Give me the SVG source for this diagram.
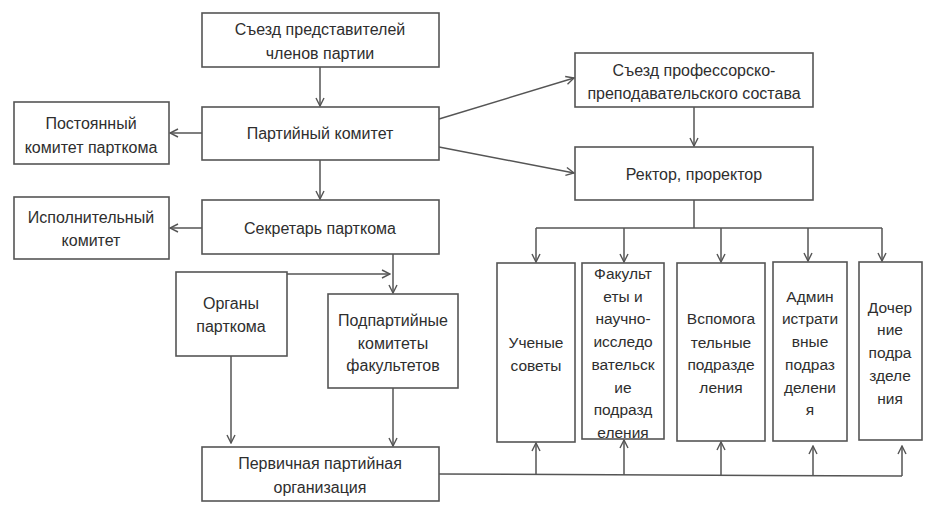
<svg xmlns="http://www.w3.org/2000/svg" width="945" height="521" viewBox="0 0 945 521">
<defs>
<marker id="ah" viewBox="0 0 10 10" refX="9" refY="5" markerWidth="10" markerHeight="10" markerUnits="userSpaceOnUse" orient="auto">
<path d="M1,1 L9,5 L1,9" fill="none" stroke="#555" stroke-width="1.4"/>
</marker>
<style>
rect{fill:#fff;stroke:#555;stroke-width:1.6}
text{font-family:"Liberation Sans",Arial,sans-serif;font-size:16px;fill:#2e2e2e;text-anchor:middle}
.s{font-size:15.5px}
.c line,.c polyline{stroke:#555;stroke-width:1.5;fill:none}
</style>
</defs>
<rect x="0" y="0" width="945" height="521" style="fill:#fff;stroke:none"/>
<g class="c" id="connectors">
<line x1="320" y1="67" x2="320" y2="106" marker-end="url(#ah)"/>
<line x1="202" y1="133" x2="170" y2="133" marker-end="url(#ah)"/>
<line x1="320" y1="160" x2="320" y2="199" marker-end="url(#ah)"/>
<line x1="202" y1="228" x2="170" y2="228" marker-end="url(#ah)"/>
<line x1="393" y1="254" x2="393" y2="293" marker-end="url(#ah)"/>
<line x1="287" y1="274" x2="390" y2="274" marker-end="url(#ah)"/>
<line x1="231" y1="356" x2="231" y2="443" marker-end="url(#ah)"/>
<line x1="393" y1="388" x2="393" y2="446" marker-end="url(#ah)"/>
<line x1="439" y1="119" x2="574" y2="78" marker-end="url(#ah)"/>
<line x1="439" y1="147" x2="574" y2="173" marker-end="url(#ah)"/>
<line x1="694" y1="107" x2="694" y2="146" marker-end="url(#ah)"/>
<line x1="694" y1="200" x2="694" y2="228"/>
<line x1="536" y1="228" x2="882" y2="228"/>
<line x1="536" y1="228" x2="536" y2="262" marker-end="url(#ah)"/>
<line x1="624" y1="228" x2="624" y2="262" marker-end="url(#ah)"/>
<line x1="721" y1="228" x2="721" y2="262" marker-end="url(#ah)"/>
<line x1="808" y1="228" x2="808" y2="261" marker-end="url(#ah)"/>
<line x1="882" y1="228" x2="882" y2="261" marker-end="url(#ah)"/>
<polyline points="439,474 902,476"/>
<line x1="902" y1="476" x2="902" y2="446" marker-end="url(#ah)"/>
<line x1="536" y1="475" x2="536" y2="443" marker-end="url(#ah)"/>
<line x1="624" y1="475" x2="624" y2="440" marker-end="url(#ah)"/>
<line x1="721" y1="475" x2="721" y2="442" marker-end="url(#ah)"/>
<line x1="813" y1="475" x2="813" y2="446" marker-end="url(#ah)"/>
</g>
<g id="n1"><rect x="202" y="13" width="237" height="54"/><text x="320" y="35">Съезд представителей</text><text x="320" y="59">членов партии</text></g>
<g id="n2"><rect x="202" y="107" width="237" height="53"/><text x="320" y="139">Партийный комитет</text></g>
<g id="n3"><rect x="14" y="102" width="155" height="62"/><text x="91" y="129">Постоянный</text><text x="91" y="153">комитет парткома</text></g>
<g id="n4"><rect x="202" y="200" width="237" height="54"/><text x="320" y="234">Секретарь парткома</text></g>
<g id="n5"><rect x="14" y="197" width="155" height="62"/><text x="91" y="223">Исполнительный</text><text x="91" y="246">комитет</text></g>
<g id="n6"><rect x="575" y="53" width="238" height="54"/><text x="694" y="76">Съезд профессорско-</text><text x="694" y="99">преподавательского состава</text></g>
<g id="n7"><rect x="575" y="147" width="238" height="53"/><text x="694" y="180">Ректор, проректор</text></g>
<g id="n8"><rect x="176" y="272" width="111" height="84"/><text x="231" y="309">Органы</text><text x="231" y="332">парткома</text></g>
<g id="n9"><rect x="328" y="294" width="130" height="94"/><text x="393" y="326">Подпартийные</text><text x="393" y="349">комитеты</text><text x="393" y="371">факультетов</text></g>
<g id="n10"><rect x="202" y="447" width="237" height="54"/><text x="320" y="469">Первичная партийная</text><text x="320" y="493">организация</text></g>
<g id="n11" class="s"><rect x="497" y="263" width="78" height="179"/><text class="s" x="536" y="348">Ученые</text><text class="s" x="536" y="371">советы</text></g>
<g id="n12"><rect x="582" y="263" width="82" height="176"/><text class="s" x="623" y="279">Факульт</text><text class="s" x="623" y="302">еты и</text><text class="s" x="623" y="324">научно-</text><text class="s" x="623" y="347">исследо</text><text class="s" x="623" y="370">вательск</text><text class="s" x="623" y="393">ие</text><text class="s" x="623" y="415">подразд</text><text class="s" x="623" y="438">еления</text></g>
<g id="n13"><rect x="677" y="263" width="88" height="178"/><text class="s" x="721" y="324">Вспомога</text><text class="s" x="721" y="348">тельные</text><text class="s" x="721" y="370">подразде</text><text class="s" x="721" y="393">ления</text></g>
<g id="n14"><rect x="773" y="262" width="74" height="179"/><text class="s" x="810" y="302">Админ</text><text class="s" x="810" y="324">истрати</text><text class="s" x="810" y="347">вные</text><text class="s" x="810" y="370">подраз</text><text class="s" x="810" y="393">делени</text><text class="s" x="810" y="415">я</text></g>
<g id="n15"><rect x="859" y="262" width="63" height="178"/><text class="s" x="890" y="313">Дочер</text><text class="s" x="890" y="335">ние</text><text class="s" x="890" y="358">подра</text><text class="s" x="890" y="381">зделе</text><text class="s" x="890" y="404">ния</text></g>
</svg>
